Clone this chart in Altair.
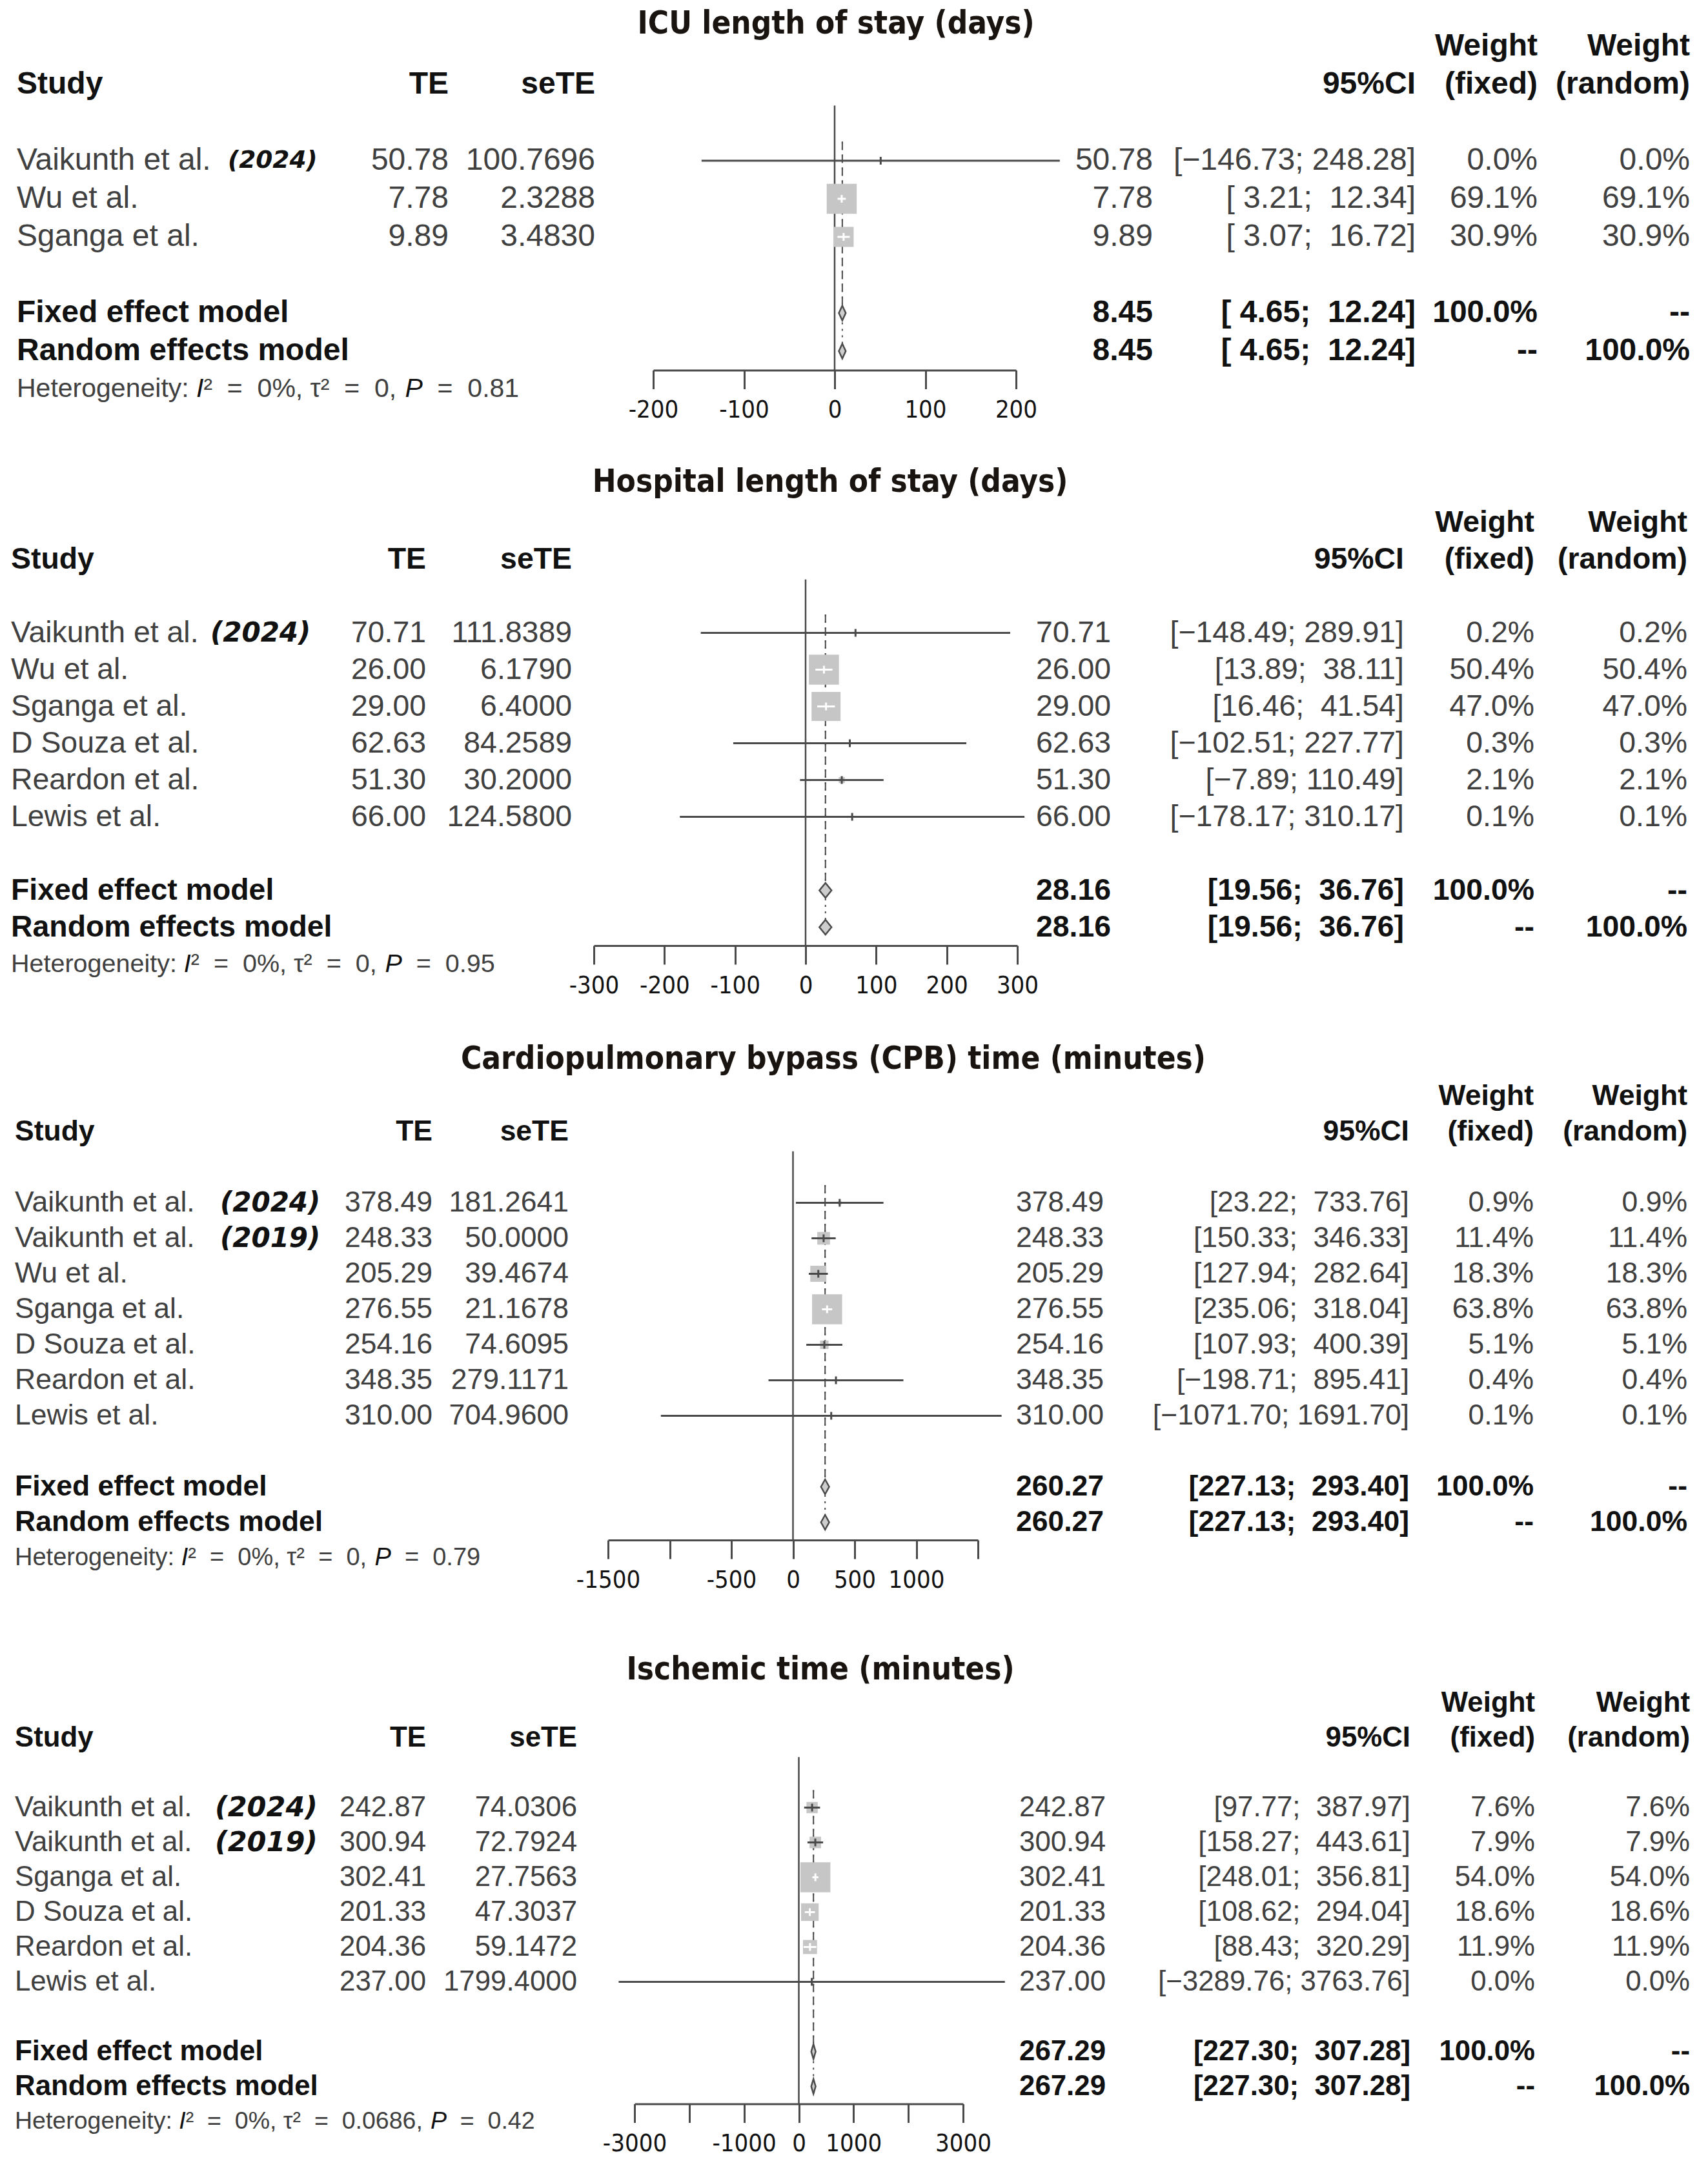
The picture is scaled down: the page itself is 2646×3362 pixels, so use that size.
import json
import math
import altair as alt
import pandas as pd

# ------------------------------------------------------------------ data
icu_title = "ICU length of stay (days)"
icu_study = ["Vaikunth et al.", "Wu et al.", "Sganga et al."]
icu_year = ["(2024)", "", ""]
icu_te = [50.78, 7.78, 9.89]
icu_sete = [100.7696, 2.3288, 3.4830]
icu_lo = [-146.73, 3.21, 3.07]
icu_hi = [248.28, 12.34, 16.72]
icu_ci = ["[−146.73; 248.28]", "[ 3.21;  12.34]", "[ 3.07;  16.72]"]
icu_wf = [0.0, 69.1, 30.9]
icu_wr = [0.0, 69.1, 30.9]
icu_pool = [8.45, 4.65, 12.24]
icu_pool_ci = "[ 4.65;  12.24]"
icu_het = ["0%", "0", "0.81"]          # I², tau², P
icu_ticks = [-200, -100, 0, 100, 200]
icu_shown = [-200, -100, 0, 100, 200]

hos_title = "Hospital length of stay (days)"
hos_study = ["Vaikunth et al.", "Wu et al.", "Sganga et al.", "D Souza et al.",
             "Reardon et al.", "Lewis et al."]
hos_year = ["(2024)", "", "", "", "", ""]
hos_te = [70.71, 26.00, 29.00, 62.63, 51.30, 66.00]
hos_sete = [111.8389, 6.1790, 6.4000, 84.2589, 30.2000, 124.5800]
hos_lo = [-148.49, 13.89, 16.46, -102.51, -7.89, -178.17]
hos_hi = [289.91, 38.11, 41.54, 227.77, 110.49, 310.17]
hos_ci = ["[−148.49; 289.91]", "[13.89;  38.11]", "[16.46;  41.54]",
          "[−102.51; 227.77]", "[−7.89; 110.49]", "[−178.17; 310.17]"]
hos_wf = [0.2, 50.4, 47.0, 0.3, 2.1, 0.1]
hos_wr = [0.2, 50.4, 47.0, 0.3, 2.1, 0.1]
hos_pool = [28.16, 19.56, 36.76]
hos_pool_ci = "[19.56;  36.76]"
hos_het = ["0%", "0", "0.95"]
hos_ticks = [-300, -200, -100, 0, 100, 200, 300]
hos_shown = [-300, -200, -100, 0, 100, 200, 300]

cpb_title = "Cardiopulmonary bypass (CPB) time (minutes)"
cpb_study = ["Vaikunth et al.", "Vaikunth et al.", "Wu et al.", "Sganga et al.",
             "D Souza et al.", "Reardon et al.", "Lewis et al."]
cpb_year = ["(2024)", "(2019)", "", "", "", "", ""]
cpb_te = [378.49, 248.33, 205.29, 276.55, 254.16, 348.35, 310.00]
cpb_sete = [181.2641, 50.0000, 39.4674, 21.1678, 74.6095, 279.1171, 704.9600]
cpb_lo = [23.22, 150.33, 127.94, 235.06, 107.93, -198.71, -1071.70]
cpb_hi = [733.76, 346.33, 282.64, 318.04, 400.39, 895.41, 1691.70]
cpb_ci = ["[23.22;  733.76]", "[150.33;  346.33]", "[127.94;  282.64]",
          "[235.06;  318.04]", "[107.93;  400.39]", "[−198.71;  895.41]",
          "[−1071.70; 1691.70]"]
cpb_wf = [0.9, 11.4, 18.3, 63.8, 5.1, 0.4, 0.1]
cpb_wr = [0.9, 11.4, 18.3, 63.8, 5.1, 0.4, 0.1]
cpb_pool = [260.27, 227.13, 293.40]
cpb_pool_ci = "[227.13;  293.40]"
cpb_het = ["0%", "0", "0.79"]
cpb_ticks = [-1500, -1000, -500, 0, 500, 1000, 1500]
cpb_shown = [-1500, -500, 0, 500, 1000]

isc_title = "Ischemic time (minutes)"
isc_study = ["Vaikunth et al.", "Vaikunth et al.", "Sganga et al.", "D Souza et al.",
             "Reardon et al.", "Lewis et al."]
isc_year = ["(2024)", "(2019)", "", "", "", ""]
isc_te = [242.87, 300.94, 302.41, 201.33, 204.36, 237.00]
isc_sete = [74.0306, 72.7924, 27.7563, 47.3037, 59.1472, 1799.4000]
isc_lo = [97.77, 158.27, 248.01, 108.62, 88.43, -3289.76]
isc_hi = [387.97, 443.61, 356.81, 294.04, 320.29, 3763.76]
isc_ci = ["[97.77;  387.97]", "[158.27;  443.61]", "[248.01;  356.81]",
          "[108.62;  294.04]", "[88.43;  320.29]", "[−3289.76; 3763.76]"]
isc_wf = [7.6, 7.9, 54.0, 18.6, 11.9, 0.0]
isc_wr = [7.6, 7.9, 54.0, 18.6, 11.9, 0.0]
isc_pool = [267.29, 227.30, 307.28]
isc_pool_ci = "[227.30;  307.28]"
isc_het = ["0%", "0.0686", "0.42"]
isc_ticks = [-3000, -2000, -1000, 0, 1000, 2000, 3000]
isc_shown = [-3000, -1000, 0, 1000, 3000]

# ------------------------------------------------------------------ layout / style
FONT = "Liberation Sans"
TFONT = "DejaVu Sans"
CFONT = "'DejaVu Sans Condensed', 'DejaVu Sans'"
NB = "\u00a0"
GRAY_TXT = "#404040"
DARK_TXT = "#111111"
LINE = "#4a4a4a"
SQUARE = "#c6c6c6"
PANEL_W = 2620
MAX_SQ = 46.5

# advance widths (em) of Liberation Sans, used to chain the heterogeneity pieces
ADV = {"H": .722, "e": .556, "t": .278, "r": .333, "o": .556, "g": .556, "n": .556,
       "i": .222, "y": .5, ":": .278, " ": .278, NB: .278, "I": .278, "²": .333,
       "=": .584, "%": .889, ",": .278, ".": .278, "τ": .44, "P": .667}


def text_width(s, size):
    return sum(ADV.get(c, .556) for c in s) * size


LAYOUT = [
    dict(y0=249, step=59, fs=48, hfs=41, yfs=37.5,
         study_x=26, year_x=353, te_x=695, sete_x=922, te2_x=1786, ci_x=2193,
         wf_x=2382, wr_x=2618, title_x=1295, title_row=-3.6, fx=(1012, 1574)),
    dict(y0=980, step=57, fs=46.4, hfs=39.5, yfs=42,
         study_x=17, year_x=326, te_x=660, sete_x=886, te2_x=1721, ci_x=2175,
         wf_x=2377, wr_x=2614, title_x=1286, title_row=-4.1, fx=(920, 1576)),
    dict(y0=1863, step=55, fs=44.5, hfs=38, yfs=42,
         study_x=23, year_x=341, te_x=670, sete_x=881, te2_x=1710, ci_x=2183,
         wf_x=2376, wr_x=2614, title_x=1291, title_row=-4.05, fx=(942, 1515)),
    dict(y0=2800, step=54, fs=43.8, hfs=37.5, yfs=43,
         study_x=23, year_x=333, te_x=660, sete_x=894, te2_x=1713, ci_x=2185,
         wf_x=2378, wr_x=2618, title_x=1271, title_row=-3.96, fx=(983, 1492)),
]

DATA = [
    dict(title=icu_title, study=icu_study, year=icu_year, te=icu_te, sete=icu_sete,
         lo=icu_lo, hi=icu_hi, ci=icu_ci, wf=icu_wf, wr=icu_wr, pool=icu_pool,
         pool_ci=icu_pool_ci, het=icu_het, ticks=icu_ticks, shown=icu_shown),
    dict(title=hos_title, study=hos_study, year=hos_year, te=hos_te, sete=hos_sete,
         lo=hos_lo, hi=hos_hi, ci=hos_ci, wf=hos_wf, wr=hos_wr, pool=hos_pool,
         pool_ci=hos_pool_ci, het=hos_het, ticks=hos_ticks, shown=hos_shown),
    dict(title=cpb_title, study=cpb_study, year=cpb_year, te=cpb_te, sete=cpb_sete,
         lo=cpb_lo, hi=cpb_hi, ci=cpb_ci, wf=cpb_wf, wr=cpb_wr, pool=cpb_pool,
         pool_ci=cpb_pool_ci, het=cpb_het, ticks=cpb_ticks, shown=cpb_shown),
    dict(title=isc_title, study=isc_study, year=isc_year, te=isc_te, sete=isc_sete,
         lo=isc_lo, hi=isc_hi, ci=isc_ci, wf=isc_wf, wr=isc_wr, pool=isc_pool,
         pool_ci=isc_pool_ci, het=isc_het, ticks=isc_ticks, shown=isc_shown),
]

# each panel ends at its own x-axis line; the next one starts there
top = 8
for d, L in zip(DATA, LAYOUT):
    n = len(d["study"])
    axis_px = L["y0"] + (n + 2.5) * L["step"]
    L["top"] = top
    L["height"] = axis_px - top
    top = axis_px


def nb(s):
    return s.replace(" ", NB)


def pct(v):
    return f"{v:.1f}%"


def build_panel(d, L):
    n = len(d["study"])
    top = L["top"]

    def py(r):
        return L["y0"] - top + r * L["step"]

    def X(v):
        return v - 8

    rmin, rmax = -6, n + 5
    ys = alt.Scale(domain=[rmin, rmax], range=[py(rmin), py(rmax)], nice=False, zero=False)
    x0, x1 = d["ticks"][0], d["ticks"][-1]
    px0, px1 = X(L["fx"][0]), X(L["fx"][1])
    xs = alt.Scale(domain=[x0, x1], range=[px0, px1], nice=False, zero=False)
    ppu = (px1 - px0) / (x1 - x0)

    axis_row = n + 2.5
    shown = json.dumps(d["shown"])
    xaxis = alt.Axis(
        values=d["ticks"], title=None, grid=False, orient="bottom",
        labelExpr=f"indexof({shown}, datum.value) >= 0 ? '' + datum.value : ''",
        tickSize=29, tickWidth=3, tickColor=LINE, domainWidth=3, domainColor=LINE,
        labelFont=CFONT, labelFontSize=38, labelColor=DARK_TXT, labelPadding=14,
        labelOverlap=False, labelFlush=False, labelBound=False,
    )

    def XQ(f):
        return alt.X(f"{f}:Q", scale=xs, axis=xaxis)

    def Y(f="row"):
        return alt.Y(f"{f}:Q", scale=ys, axis=None, stack=None)

    layers = []

    # vertical line of no effect
    zero_df = pd.DataFrame({"v": [0], "r1": [-1.45], "r2": [axis_row]})
    layers.append(
        alt.Chart(zero_df).mark_rule(color=LINE, strokeWidth=2.5).encode(
            x=XQ("v"), y=Y("r1"), y2="r2:Q")
    )

    est, plo, phi = d["pool"]
    fixed_row, rand_row = n + 1, n + 2
    dh = 11.5 / L["step"]
    ref_df = pd.DataFrame({"v": [est], "r1": [-0.5], "r2": [fixed_row - dh], "r3": [rand_row - dh]})
    layers.append(
        alt.Chart(ref_df).mark_rule(color=LINE, strokeWidth=2, strokeDash=[12, 8]).encode(
            x=XQ("v"), y=Y("r1"), y2="r2:Q")
    )
    layers.append(
        alt.Chart(ref_df).mark_rule(color=LINE, strokeWidth=2, strokeDash=[3, 7]).encode(
            x=XQ("v"), y=Y("r1"), y2="r3:Q")
    )

    # studies
    wmax = max(d["wf"])
    cols = []
    for i in range(n):
        side = MAX_SQ * math.sqrt(d["wf"][i] / wmax) if wmax > 0 else 0
        ci_px = (d["hi"][i] - d["lo"][i]) * ppu
        cols.append("#ffffff" if ci_px < side else LINE)
    sdf = pd.DataFrame({
        "row": list(range(n)), "v": d["te"], "lo": d["lo"], "hi": d["hi"],
        "w": d["wf"], "col": cols,
    })
    layers.append(
        alt.Chart(sdf).mark_square(filled=True, color=SQUARE, opacity=1).encode(
            x=XQ("v"), y=Y(),
            size=alt.Size("w:Q", scale=alt.Scale(domain=[0, wmax], range=[0, MAX_SQ ** 2]),
                          legend=None))
    )
    layers.append(
        alt.Chart(sdf).mark_rule(strokeWidth=3).encode(
            x=XQ("lo"), x2="hi:Q", y=Y(),
            color=alt.Color("col:N", scale=None))
    )
    layers.append(
        alt.Chart(sdf).mark_rule(strokeWidth=3, yOffset=-6, y2Offset=6).encode(
            x=XQ("v"), y=Y(), y2="row:Q",
            color=alt.Color("col:N", scale=None))
    )

    # diamonds (one layer each, closed polygon drawn as area)
    for r in (fixed_row, rand_row):
        ddf = pd.DataFrame({
            "v": [plo, est, phi],
            "yt": [r, r - dh, r],
            "yb": [r, r + dh, r],
        })
        layers.append(
            alt.Chart(ddf).mark_area(orient="vertical", fill="#cdcdcd", stroke=LINE,
                                     strokeWidth=2.5, fillOpacity=1).encode(
                x=XQ("v"), y=Y("yt"), y2="yb:Q")
        )

    # ---- text
    def text_layer(rows, texts, x, align, size, color, bold=False, italic=False, font=FONT):
        df = pd.DataFrame({"row": rows, "t": [nb(t) for t in texts]})
        return alt.Chart(df).mark_text(
            align=align, baseline="middle", font=font, fontSize=size,
            fontWeight="bold" if bold else "normal",
            fontStyle="italic" if italic else "normal", color=color,
        ).encode(x=alt.value(X(x)), y=Y(), text="t:N")

    fs = L["fs"]
    rows = list(range(n))
    layers.append(text_layer([L["title_row"]], [d["title"]], L["title_x"], "center", 49,
                             "#1a1410", bold=True, font=CFONT))
    layers.append(text_layer([-2], ["Study"], L["study_x"], "left", fs, DARK_TXT, bold=True))
    layers.append(text_layer([-2], ["TE"], L["te_x"], "right", fs, DARK_TXT, bold=True))
    layers.append(text_layer([-2], ["seTE"], L["sete_x"], "right", fs, DARK_TXT, bold=True))
    layers.append(text_layer([-2], ["95%CI"], L["ci_x"], "right", fs, DARK_TXT, bold=True))
    layers.append(text_layer([-3, -2], ["Weight", "(fixed)"], L["wf_x"], "right", fs, DARK_TXT, bold=True))
    layers.append(text_layer([-3, -2], ["Weight", "(random)"], L["wr_x"], "right", fs, DARK_TXT, bold=True))
    layers.append(text_layer(rows, d["study"], L["study_x"], "left", fs, GRAY_TXT))
    yr = [(i, y) for i, y in enumerate(d["year"]) if y]
    layers.append(text_layer([i for i, _ in yr], [y for _, y in yr], L["year_x"], "left",
                             L["yfs"], DARK_TXT, bold=True, italic=True, font=TFONT))
    layers.append(text_layer(rows, [f"{v:.2f}" for v in d["te"]], L["te_x"], "right", fs, GRAY_TXT))
    layers.append(text_layer(rows, [f"{v:.4f}" for v in d["sete"]], L["sete_x"], "right", fs, GRAY_TXT))
    layers.append(text_layer(rows, [f"{v:.2f}" for v in d["te"]], L["te2_x"], "right", fs, GRAY_TXT))
    layers.append(text_layer(rows, d["ci"], L["ci_x"], "right", fs, GRAY_TXT))
    layers.append(text_layer(rows, [pct(v) for v in d["wf"]], L["wf_x"], "right", fs, GRAY_TXT))
    layers.append(text_layer(rows, [pct(v) for v in d["wr"]], L["wr_x"], "right", fs, GRAY_TXT))
    prow = [fixed_row, rand_row]
    layers.append(text_layer(prow, ["Fixed effect model", "Random effects model"],
                             L["study_x"], "left", fs, DARK_TXT, bold=True))
    layers.append(text_layer(prow, [f"{est:.2f}"] * 2, L["te2_x"], "right", fs, DARK_TXT, bold=True))
    layers.append(text_layer(prow, [d["pool_ci"]] * 2, L["ci_x"], "right", fs, DARK_TXT, bold=True))
    layers.append(text_layer(prow, ["100.0%", "--"], L["wf_x"], "right", fs, DARK_TXT, bold=True))
    layers.append(text_layer(prow, ["--", "100.0%"], L["wr_x"], "right", fs, DARK_TXT, bold=True))

    # heterogeneity line, with italic I and P
    i2, t2, pv = d["het"]
    hfs = L["hfs"]
    pieces = [
        ("Heterogeneity: ", False),
        ("I", True),
        (f"²  =  {i2}, τ²  =  {t2}, ", False),
        ("P", True),
        (f"  =  {pv}", False),
    ]
    hx = L["study_x"]
    for txt, ital in pieces:
        lead = len(txt) - len(txt.lstrip(" "))
        body = txt.strip(" ")
        layers.append(text_layer([n + 3], [body], hx + lead * ADV[" "] * hfs, "left", hfs,
                                 "#111111" if ital else GRAY_TXT, italic=ital))
        hx += text_width(txt, hfs)

    return alt.layer(*layers).properties(width=PANEL_W, height=L["height"])


panels = [build_panel(d, L) for d, L in zip(DATA, LAYOUT)]

chart = (
    alt.vconcat(*panels, spacing=0, bounds="flush")
    .resolve_scale(x="independent", y="independent", size="independent")
    .properties(padding=0, background="white")
    .configure_view(strokeWidth=0, stroke="transparent")
)

chart.save("out.html", embed_options={"renderer": "svg", "actions": False})
